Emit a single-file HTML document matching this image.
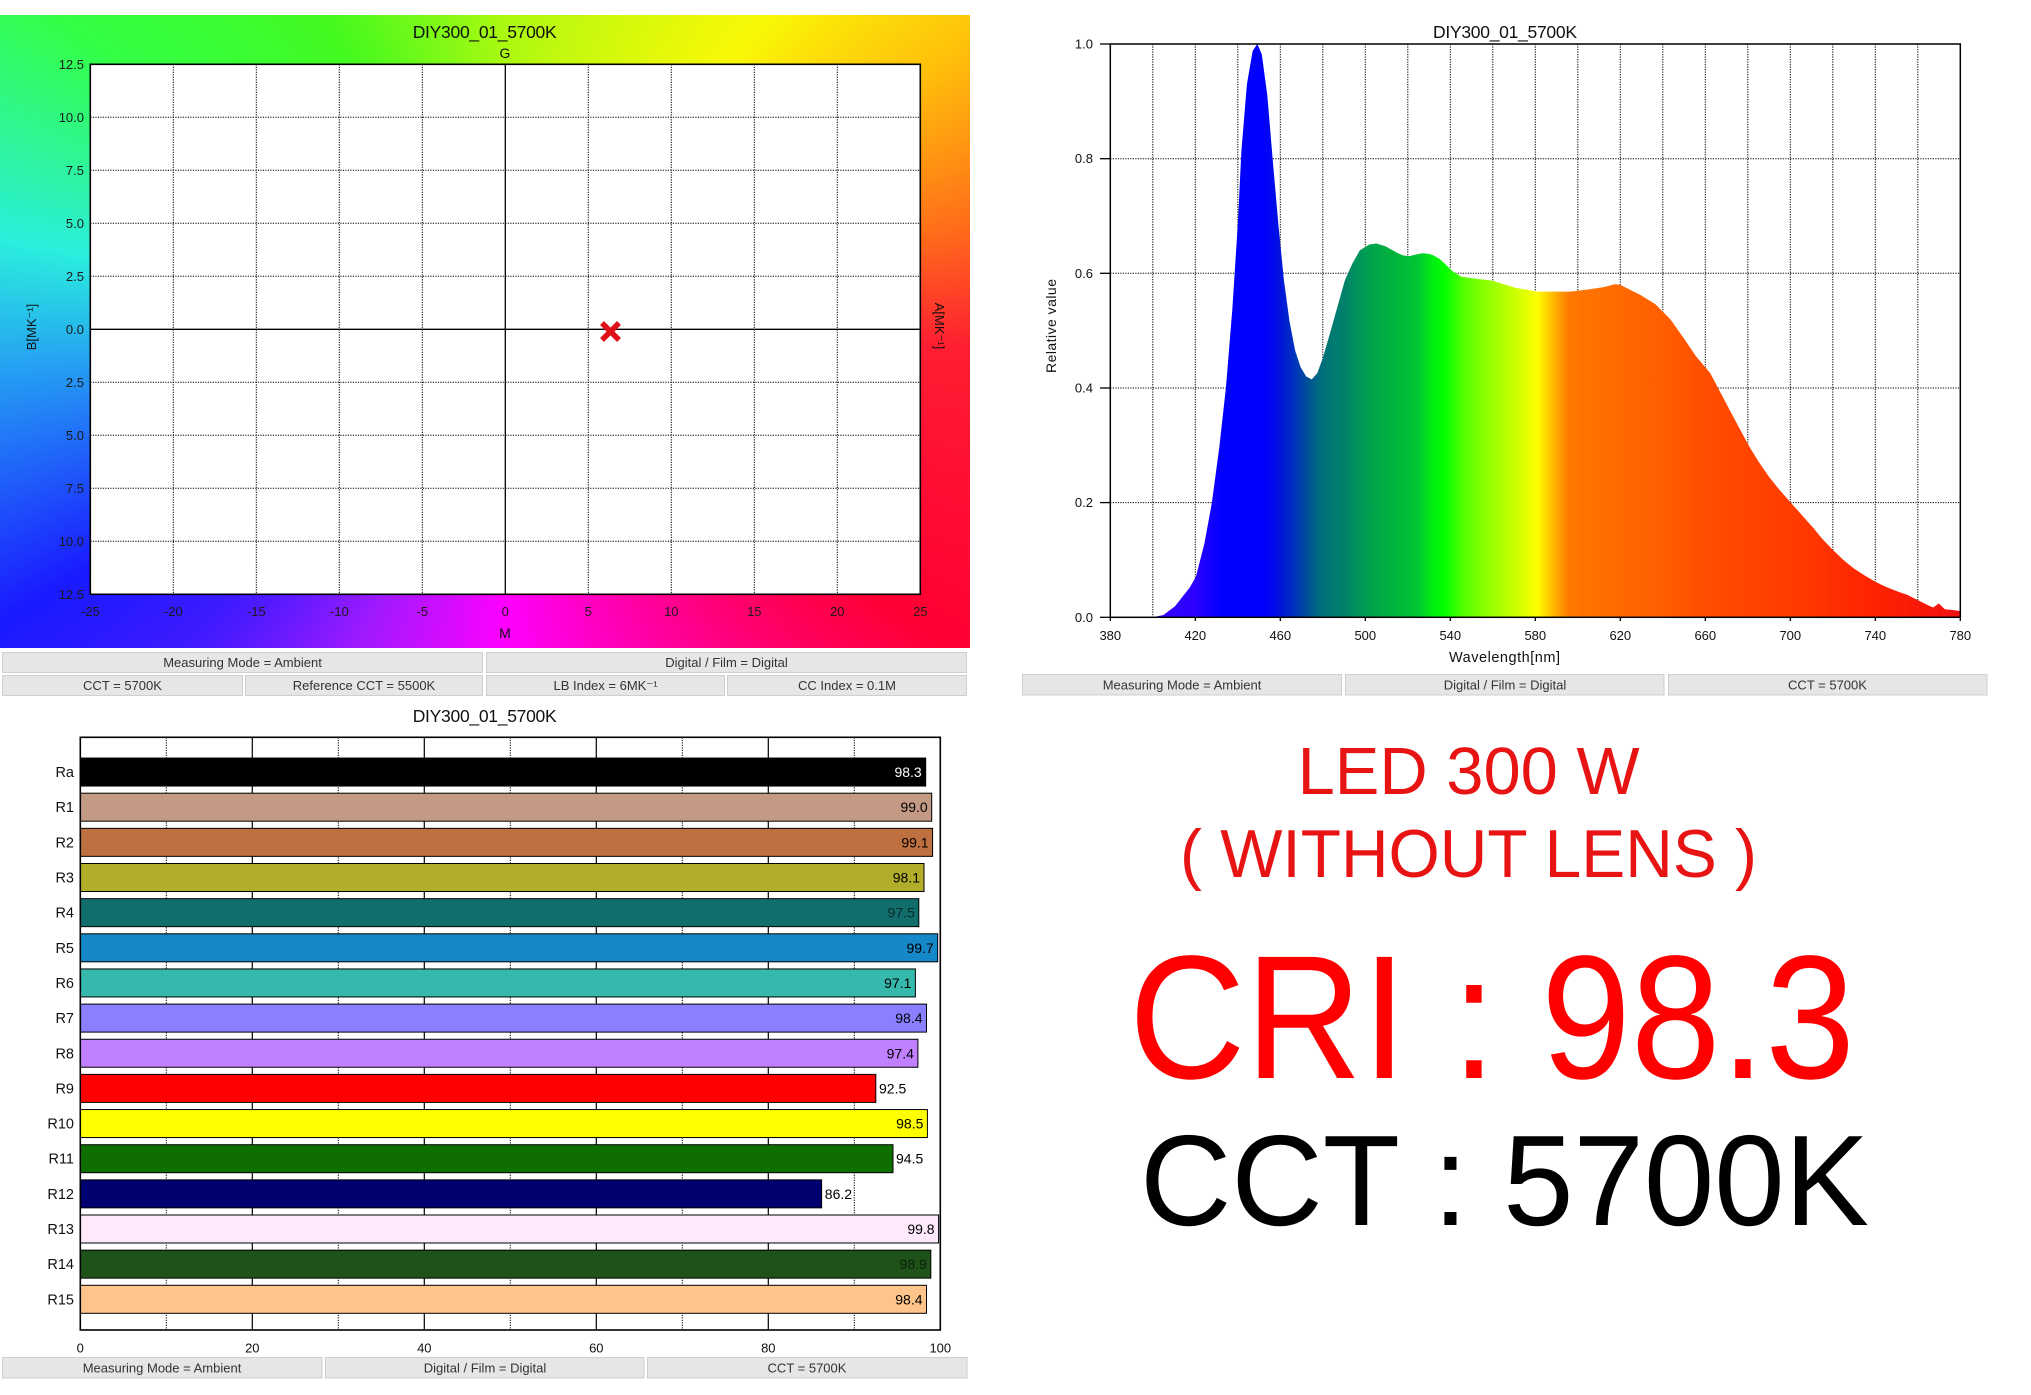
<!DOCTYPE html>
<html><head><meta charset="utf-8"><style>
html,body{margin:0;padding:0;background:#fff;}
body{width:2031px;height:1395px;position:relative;overflow:hidden;font-family:"Liberation Sans",Arial,sans-serif;}
#bg{position:absolute;left:0;top:15px;width:970px;height:633px;
background:conic-gradient(from 0deg at 505px 315px,
hsl(80,95%,52%) 0deg,hsl(60,95%,50%) 40deg,hsl(45,100%,52%) 58deg,hsl(22,100%,55%) 77deg,hsl(355,100%,56%) 92deg,
hsl(348,100%,50%) 125deg,hsl(325,100%,50%) 150deg,hsl(300,100%,50%) 180deg,hsl(275,100%,55%) 205deg,
hsl(250,100%,55%) 225deg,hsl(240,100%,55%) 240deg,hsl(205,90%,55%) 265deg,hsl(175,85%,55%) 280deg,
hsl(125,100%,60%) 305deg,hsl(110,95%,55%) 330deg,hsl(80,95%,52%) 360deg);}
svg{position:absolute;left:0;top:0;}
</style></head><body>
<div id="bg"></div>
<svg width="2031" height="1395" viewBox="0 0 2031 1395" xmlns="http://www.w3.org/2000/svg" font-family="Liberation Sans, Arial, sans-serif">
<defs>
<linearGradient id="spec" gradientUnits="userSpaceOnUse" x1="0" y1="0" x2="400" y2="0">
<stop offset="0" stop-color="#4400ff"/><stop offset="0.05" stop-color="#3a00ff"/><stop offset="0.1" stop-color="#2a00ff"/>
<stop offset="0.1325" stop-color="#0000ff"/><stop offset="0.18" stop-color="#0000ff"/><stop offset="0.1975" stop-color="#0010e0"/>
<stop offset="0.215" stop-color="#0030c0"/><stop offset="0.2325" stop-color="#005098"/><stop offset="0.245" stop-color="#006a80"/>
<stop offset="0.26" stop-color="#007a72"/><stop offset="0.275" stop-color="#00806a"/><stop offset="0.3025" stop-color="#00a050"/>
<stop offset="0.3275" stop-color="#00b040"/><stop offset="0.3625" stop-color="#00c830"/><stop offset="0.38" stop-color="#00f010"/>
<stop offset="0.3925" stop-color="#00ff00"/><stop offset="0.415" stop-color="#50ff00"/><stop offset="0.4425" stop-color="#90ff00"/>
<stop offset="0.475" stop-color="#c8ff00"/><stop offset="0.5025" stop-color="#ffff00"/><stop offset="0.515" stop-color="#ffd000"/>
<stop offset="0.5275" stop-color="#ffa000"/><stop offset="0.54" stop-color="#ff7800"/><stop offset="0.59" stop-color="#ff6c00"/>
<stop offset="0.655" stop-color="#ff5c00"/><stop offset="0.705" stop-color="#ff4c00"/><stop offset="0.8" stop-color="#ff3c00"/>
<stop offset="0.9" stop-color="#ff2200"/><stop offset="1" stop-color="#f01010"/>
</linearGradient>
</defs>

<!-- ============ TOP-LEFT CHART ============ -->
<text x="484.7" y="38" font-size="17.5" text-anchor="middle" textLength="144" fill="#111">DIY300_01_5700K</text>
<text x="505" y="58" font-size="14" text-anchor="middle" fill="#111">G</text>
<rect x="90.3" y="64.3" width="830" height="530" fill="#fff"/>
<g stroke="#000" stroke-width="1" stroke-dasharray="1.2,1.3" fill="none">
<line x1="173.3" y1="64.3" x2="173.3" y2="594.3"/><line x1="256.3" y1="64.3" x2="256.3" y2="594.3"/>
<line x1="339.3" y1="64.3" x2="339.3" y2="594.3"/><line x1="422.3" y1="64.3" x2="422.3" y2="594.3"/>
<line x1="588.3" y1="64.3" x2="588.3" y2="594.3"/><line x1="671.3" y1="64.3" x2="671.3" y2="594.3"/>
<line x1="754.3" y1="64.3" x2="754.3" y2="594.3"/><line x1="837.3" y1="64.3" x2="837.3" y2="594.3"/>
<line x1="90.3" y1="117.3" x2="920.3" y2="117.3"/><line x1="90.3" y1="170.3" x2="920.3" y2="170.3"/>
<line x1="90.3" y1="223.3" x2="920.3" y2="223.3"/><line x1="90.3" y1="276.3" x2="920.3" y2="276.3"/>
<line x1="90.3" y1="382.3" x2="920.3" y2="382.3"/><line x1="90.3" y1="435.3" x2="920.3" y2="435.3"/>
<line x1="90.3" y1="488.3" x2="920.3" y2="488.3"/><line x1="90.3" y1="541.3" x2="920.3" y2="541.3"/>
</g>
<g stroke="#000" stroke-width="1.3">
<line x1="505.3" y1="64.3" x2="505.3" y2="594.3"/>
<line x1="90.3" y1="329.3" x2="920.3" y2="329.3"/>
</g>
<rect x="90.3" y="64.3" width="830" height="530" fill="none" stroke="#000" stroke-width="1.6"/>
<g font-size="13" fill="#1a1a1a" text-anchor="end">
<text x="84" y="69">12.5</text><text x="84" y="122">10.0</text><text x="84" y="175">7.5</text>
<text x="84" y="228">5.0</text><text x="84" y="281">2.5</text><text x="84" y="334">0.0</text>
<text x="84" y="387">2.5</text><text x="84" y="440">5.0</text><text x="84" y="493">7.5</text>
<text x="84" y="546">10.0</text><text x="84" y="599">12.5</text>
</g>
<g font-size="13" fill="#1a1a1a" text-anchor="middle">
<text x="90.3" y="616">-25</text><text x="173.3" y="616">-20</text><text x="256.3" y="616">-15</text>
<text x="339.3" y="616">-10</text><text x="422.3" y="616">-5</text><text x="505.3" y="616">0</text>
<text x="588.3" y="616">5</text><text x="671.3" y="616">10</text><text x="754.3" y="616">15</text>
<text x="837.3" y="616">20</text><text x="920.3" y="616">25</text>
</g>
<text x="505" y="638" font-size="14" text-anchor="middle" fill="#111">M</text>
<text transform="translate(36,327) rotate(-90)" font-size="13" text-anchor="middle" fill="#111">B[MK⁻¹]</text>
<text transform="translate(935,326) rotate(90)" font-size="13" text-anchor="middle" fill="#111">A[MK⁻¹]</text>
<g stroke="#e0101a" stroke-width="5.5">
<line x1="602" y1="323" x2="619" y2="340"/><line x1="619" y1="323" x2="602" y2="340"/>
</g>
<g fill="#e6e6e6" stroke="#cfcfcf" stroke-width="1">
<rect x="2.5" y="652.5" width="480" height="20"/><rect x="486.5" y="652.5" width="480" height="20"/>
<rect x="2.5" y="675.5" width="240" height="20"/><rect x="245.5" y="675.5" width="237" height="20"/>
<rect x="486.5" y="675.5" width="238" height="20"/><rect x="727.5" y="675.5" width="239" height="20"/>
</g>
<g font-size="13" fill="#333" text-anchor="middle">
<text x="242.5" y="667">Measuring Mode = Ambient</text><text x="726.5" y="667">Digital / Film = Digital</text>
<text x="122.5" y="690">CCT = 5700K</text><text x="364" y="690">Reference CCT = 5500K</text>
<text x="605.5" y="690">LB Index = 6MK⁻¹</text><text x="847" y="690">CC Index = 0.1M</text>
</g>

<!-- ============ SPECTRUM CHART ============ -->
<text x="1505" y="38" font-size="17.5" text-anchor="middle" textLength="144" fill="#111">DIY300_01_5700K</text>
<g stroke="#000" stroke-width="1" stroke-dasharray="1.2,1.3" fill="none">
<line x1="1152.8" y1="44" x2="1152.8" y2="617.3"/><line x1="1195.3" y1="44" x2="1195.3" y2="617.3"/>
<line x1="1237.8" y1="44" x2="1237.8" y2="617.3"/><line x1="1280.3" y1="44" x2="1280.3" y2="617.3"/>
<line x1="1322.8" y1="44" x2="1322.8" y2="617.3"/><line x1="1365.3" y1="44" x2="1365.3" y2="617.3"/>
<line x1="1407.8" y1="44" x2="1407.8" y2="617.3"/><line x1="1450.3" y1="44" x2="1450.3" y2="617.3"/>
<line x1="1492.8" y1="44" x2="1492.8" y2="617.3"/><line x1="1535.3" y1="44" x2="1535.3" y2="617.3"/>
<line x1="1577.8" y1="44" x2="1577.8" y2="617.3"/><line x1="1620.3" y1="44" x2="1620.3" y2="617.3"/>
<line x1="1662.8" y1="44" x2="1662.8" y2="617.3"/><line x1="1705.3" y1="44" x2="1705.3" y2="617.3"/>
<line x1="1747.8" y1="44" x2="1747.8" y2="617.3"/><line x1="1790.3" y1="44" x2="1790.3" y2="617.3"/>
<line x1="1832.8" y1="44" x2="1832.8" y2="617.3"/><line x1="1875.3" y1="44" x2="1875.3" y2="617.3"/>
<line x1="1917.8" y1="44" x2="1917.8" y2="617.3"/>
<line x1="1110.3" y1="502.6" x2="1960.3" y2="502.6"/><line x1="1110.3" y1="388" x2="1960.3" y2="388"/>
<line x1="1110.3" y1="273.3" x2="1960.3" y2="273.3"/><line x1="1110.3" y1="158.7" x2="1960.3" y2="158.7"/>
</g>
<path transform="translate(1110.3,617.3) scale(2.125,-573.3)" fill="url(#spec)" d="M20,0 L25,.004 L30.4,.019 L37.4,.052 L40.3,.071 L44.3,.129 L47.8,.2 L51.3,.297 L54.4,.4 L57.4,.536 L60,.685 L61.7,.814 L64.3,.93 L67,.988 L69.2,1 L71.3,.982 L73.9,.91 L76.5,.795 L79.1,.685 L81.7,.588 L84.3,.517 L87,.465 L89.6,.436 L92.2,.42 L94.8,.415 L97.4,.426 L100,.452 L103.5,.497 L107,.543 L110.4,.588 L113.9,.617 L117.4,.64 L121.7,.65 L125.2,.652 L129.6,.647 L134.8,.636 L138,.631 L140.9,.63 L144,.633 L147,.635 L150,.634 L152.2,.631 L155,.625 L157.4,.617 L160.9,.604 L165.2,.594 L171.3,.591 L180,.587 L190.4,.575 L200.9,.568 L216.5,.568 L225.2,.572 L232.2,.576 L237.4,.581 L240,.58 L242.6,.575 L249.6,.562 L256.5,.546 L263.5,.52 L270.4,.484 L275.7,.455 L282.3,.426 L285.3,.405 L291.4,.362 L300.5,.299 L305,.272 L310,.245 L315,.222 L320,.201 L325.5,.178 L330.8,.156 L335,.137 L339.9,.118 L345,.1 L350,.085 L355,.073 L360,.062 L365,.053 L370.5,.045 L375.2,.039 L380,.03 L384.8,.021 L387.2,.017 L389.9,.024 L392.7,.014 L395.8,.013 L400,.011 L400,0 Z"/>
<rect x="1110.3" y="44" width="850" height="573.3" fill="none" stroke="#000" stroke-width="1.5"/>
<g stroke="#000" stroke-width="1.3">
<line x1="1100" y1="617.3" x2="1110.3" y2="617.3"/><line x1="1100" y1="502.6" x2="1110.3" y2="502.6"/>
<line x1="1100" y1="388" x2="1110.3" y2="388"/><line x1="1100" y1="273.3" x2="1110.3" y2="273.3"/>
<line x1="1100" y1="158.7" x2="1110.3" y2="158.7"/><line x1="1100" y1="44" x2="1110.3" y2="44"/>
<line x1="1110.3" y1="617" x2="1110.3" y2="621"/><line x1="1195.3" y1="617" x2="1195.3" y2="621"/>
<line x1="1280.3" y1="617" x2="1280.3" y2="621"/><line x1="1365.3" y1="617" x2="1365.3" y2="621"/>
<line x1="1450.3" y1="617" x2="1450.3" y2="621"/><line x1="1535.3" y1="617" x2="1535.3" y2="621"/>
<line x1="1620.3" y1="617" x2="1620.3" y2="621"/><line x1="1705.3" y1="617" x2="1705.3" y2="621"/>
<line x1="1790.3" y1="617" x2="1790.3" y2="621"/><line x1="1875.3" y1="617" x2="1875.3" y2="621"/>
<line x1="1960.3" y1="617" x2="1960.3" y2="621"/>
</g>
<g font-size="13" fill="#111" text-anchor="end">
<text x="1093" y="622">0.0</text><text x="1093" y="507">0.2</text><text x="1093" y="392.5">0.4</text>
<text x="1093" y="278">0.6</text><text x="1093" y="163">0.8</text><text x="1093" y="48.5">1.0</text>
</g>
<g font-size="13" fill="#111" text-anchor="middle">
<text x="1110.3" y="640">380</text><text x="1195.3" y="640">420</text><text x="1280.3" y="640">460</text>
<text x="1365.3" y="640">500</text><text x="1450.3" y="640">540</text><text x="1535.3" y="640">580</text>
<text x="1620.3" y="640">620</text><text x="1705.3" y="640">660</text><text x="1790.3" y="640">700</text>
<text x="1875.3" y="640">740</text><text x="1960.3" y="640">780</text>
</g>
<text x="1504.5" y="662" font-size="14.5" text-anchor="middle" textLength="111" fill="#111">Wavelength[nm]</text>
<text transform="translate(1056,326) rotate(-90)" font-size="14" text-anchor="middle" textLength="94" fill="#111">Relative value</text>
<g fill="#e6e6e6" stroke="#cfcfcf" stroke-width="1">
<rect x="1022.5" y="674.5" width="319" height="20.5"/><rect x="1345.5" y="674.5" width="318.5" height="20.5"/>
<rect x="1668.5" y="674.5" width="318.5" height="20.5"/>
</g>
<g font-size="13" fill="#333" text-anchor="middle">
<text x="1182" y="689.5">Measuring Mode = Ambient</text><text x="1505" y="689.5">Digital / Film = Digital</text>
<text x="1827.5" y="689.5">CCT = 5700K</text>
</g>

<!-- ============ BAR CHART ============ -->
<text x="484.7" y="722" font-size="17.5" text-anchor="middle" textLength="144" fill="#111">DIY300_01_5700K</text>
<rect x="80.3" y="737.3" width="860" height="592.7" fill="#fff"/>
<g stroke="#000" stroke-width="1" stroke-dasharray="1.2,1.3">
<line x1="166.3" y1="737.3" x2="166.3" y2="1330"/><line x1="338.3" y1="737.3" x2="338.3" y2="1330"/>
<line x1="510.3" y1="737.3" x2="510.3" y2="1330"/><line x1="682.3" y1="737.3" x2="682.3" y2="1330"/>
<line x1="854.3" y1="737.3" x2="854.3" y2="1330"/>
</g>
<g stroke="#000" stroke-width="1.2">
<line x1="252.3" y1="737.3" x2="252.3" y2="1330"/><line x1="424.3" y1="737.3" x2="424.3" y2="1330"/>
<line x1="596.3" y1="737.3" x2="596.3" y2="1330"/><line x1="768.3" y1="737.3" x2="768.3" y2="1330"/>
</g>
<g stroke="#000" stroke-width="1">
<rect x="80.3" y="758.05" width="845.4" height="28" fill="#000000"/>
<rect x="80.3" y="793.2" width="851.4" height="28" fill="#c49a84"/>
<rect x="80.3" y="828.35" width="852.3" height="28" fill="#bf7040"/>
<rect x="80.3" y="863.5" width="843.7" height="28" fill="#b2ae2c"/>
<rect x="80.3" y="898.65" width="838.5" height="28" fill="#116e6c"/>
<rect x="80.3" y="933.8" width="857.4" height="28" fill="#1688c8"/>
<rect x="80.3" y="968.95" width="835.1" height="28" fill="#36b8ad"/>
<rect x="80.3" y="1004.1" width="846.2" height="28" fill="#8a80ff"/>
<rect x="80.3" y="1039.25" width="837.6" height="28" fill="#c080ff"/>
<rect x="80.3" y="1074.4" width="795.5" height="28" fill="#ff0000"/>
<rect x="80.3" y="1109.55" width="847.1" height="28" fill="#ffff00"/>
<rect x="80.3" y="1144.7" width="812.7" height="28" fill="#0f6e00"/>
<rect x="80.3" y="1179.85" width="741.3" height="28" fill="#000070"/>
<rect x="80.3" y="1215" width="858.3" height="28" fill="#fde8fc"/>
<rect x="80.3" y="1250.15" width="850.5" height="28" fill="#1e5218"/>
<rect x="80.3" y="1285.3" width="846.2" height="28" fill="#ffc48a"/>
</g>
<rect x="80.3" y="737.3" width="860" height="592.7" fill="none" stroke="#000" stroke-width="1.6"/>
<g font-size="14.5" fill="#111" text-anchor="end">
<text x="74" y="777">Ra</text><text x="74" y="812.2">R1</text><text x="74" y="847.4">R2</text>
<text x="74" y="882.5">R3</text><text x="74" y="917.7">R4</text><text x="74" y="952.8">R5</text>
<text x="74" y="988">R6</text><text x="74" y="1023.1">R7</text><text x="74" y="1058.3">R8</text>
<text x="74" y="1093.4">R9</text><text x="74" y="1128.6">R10</text><text x="74" y="1163.7">R11</text>
<text x="74" y="1198.9">R12</text><text x="74" y="1234">R13</text><text x="74" y="1269.2">R14</text>
<text x="74" y="1304.3">R15</text>
</g>
<g font-size="14" fill="#000" text-anchor="end">
<text x="921.7" y="777" fill="#fff">98.3</text>
<text x="927.7" y="812.2">99.0</text><text x="928.6" y="847.4">99.1</text>
<text x="920" y="882.5">98.1</text><text x="914.8" y="917.7" fill="#062a2a">97.5</text>
<text x="933.7" y="952.8">99.7</text><text x="911.4" y="988">97.1</text>
<text x="922.5" y="1023.1">98.4</text><text x="913.9" y="1058.3">97.4</text>
<text x="923.4" y="1128.6">98.5</text>
<text x="934.6" y="1234">99.8</text><text x="926.8" y="1269.2" fill="#0a200a">98.9</text>
<text x="922.5" y="1304.3">98.4</text>
</g>
<g font-size="14" fill="#000">
<text x="879" y="1093.4">92.5</text><text x="896" y="1163.7">94.5</text><text x="824.8" y="1198.9">86.2</text>
</g>
<g font-size="13" fill="#111" text-anchor="middle">
<text x="80.3" y="1352.5">0</text><text x="252.3" y="1352.5">20</text><text x="424.3" y="1352.5">40</text>
<text x="596.3" y="1352.5">60</text><text x="768.3" y="1352.5">80</text><text x="940.3" y="1352.5">100</text>
</g>
<g fill="#e6e6e6" stroke="#cfcfcf" stroke-width="1">
<rect x="2.5" y="1357.5" width="319.5" height="20.5"/><rect x="325.5" y="1357.5" width="318.5" height="20.5"/>
<rect x="647.5" y="1357.5" width="319.5" height="20.5"/>
</g>
<g font-size="13" fill="#333" text-anchor="middle">
<text x="162" y="1372.5">Measuring Mode = Ambient</text><text x="485" y="1372.5">Digital / Film = Digital</text>
<text x="807" y="1372.5">CCT = 5700K</text>
</g>

<!-- ============ BIG TEXT ============ -->
<text x="1297.6" y="794" font-size="67" textLength="342" lengthAdjust="spacingAndGlyphs" fill="#e81414">LED 300 W</text>
<text x="1180" y="877" font-size="68" textLength="577" lengthAdjust="spacingAndGlyphs" fill="#e81414">( WITHOUT LENS )</text>
<text x="1129" y="1078" font-size="176" textLength="726" lengthAdjust="spacingAndGlyphs" fill="#ff0000">CRI : 98.3</text>
<text x="1140" y="1225" font-size="129" textLength="729" lengthAdjust="spacingAndGlyphs" fill="#000">CCT : 5700K</text>
</svg>
</body></html>
